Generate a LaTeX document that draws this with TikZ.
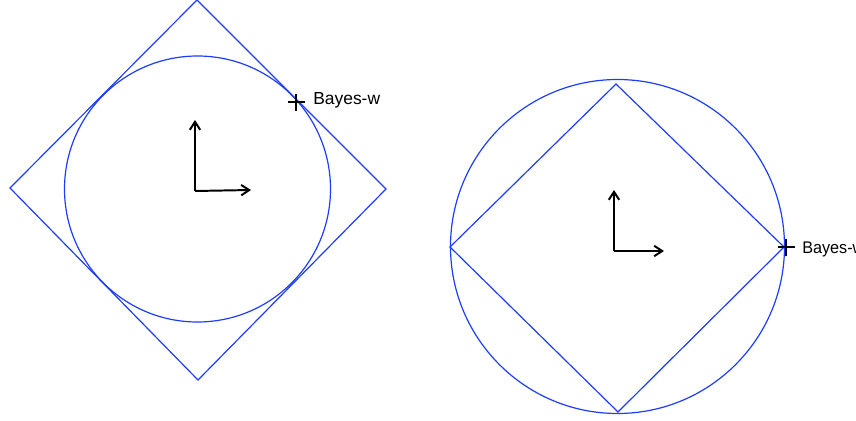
\documentclass[tikz,border=0pt]{standalone}
\usepackage{fontspec}
\setmainfont{Liberation Sans}
\usetikzlibrary{arrows.meta,positioning}
\definecolor{normBlue}{HTML}{1E3CFF}
\tikzset{
  >={Straight Barb[length=2mm,width=2.6mm]},
  ball/.style={draw=normBlue, line width=0.85pt},
  axis/.style={->, draw=black, line width=1.4pt},
  bayes/.style={draw=black, line width=1.9pt},
  lbl/.style={font=\fontsize{12.4}{14}\selectfont, inner sep=0pt, anchor=west},
}
\begin{document}
\begin{tikzpicture}[x=0.025cm,y=-0.025cm]
    \useasboundingbox (0,0) rectangle (856,421);

    % left side: diamond around the circle
    \coordinate (lc) at (197.5,189);
    \draw[ball] (197,0) -- (386,189) -- (198,380) -- (10,188) -- cycle;
    \draw[ball] (lc) circle[radius=133];
    \coordinate (lo) at (195,191);
    \coordinate (lx) at (251,190);
    \coordinate (ly) at (195,120);
    \draw[axis] (lo) -- (lx);
    \draw[axis] (lo) -- (ly);
    \coordinate (lw) at (296,102);
    \draw[bayes] ([xshift=-8.5*0.025cm]lw) -- ([xshift=8.5*0.025cm]lw)
                 ([yshift=8.5*0.025cm]lw) -- ([yshift=-8.5*0.025cm]lw);
    \node[lbl] (lwl) at (313,100){Bayes-w};

    % right side: circle around the diamond
    \coordinate (rc) at (617.5,246.5);
    \draw[ball] (rc) circle[radius=167];
    \draw[ball] (616,84) -- (784,247) -- (618,412) -- (450,247) -- cycle;
    \coordinate (ro) at (614,251);
    \coordinate (rx) at (664,251);
    \coordinate (ry) at (614,190);
    \draw[axis] (ro) -- (rx);
    \draw[axis] (ro) -- (ry);
    \coordinate (rw) at (786,247);
    \draw[bayes] ([xshift=-8.5*0.025cm]rw) -- ([xshift=8.5*0.025cm]rw)
                 ([yshift=8.5*0.025cm]rw) -- ([yshift=-8.5*0.025cm]rw);
    \node[lbl,font=\fontsize{12}{14}\selectfont] (rwl) at (802,249){\scalebox{0.96}[1]{Bayes-w}};
\end{tikzpicture}
\end{document}
